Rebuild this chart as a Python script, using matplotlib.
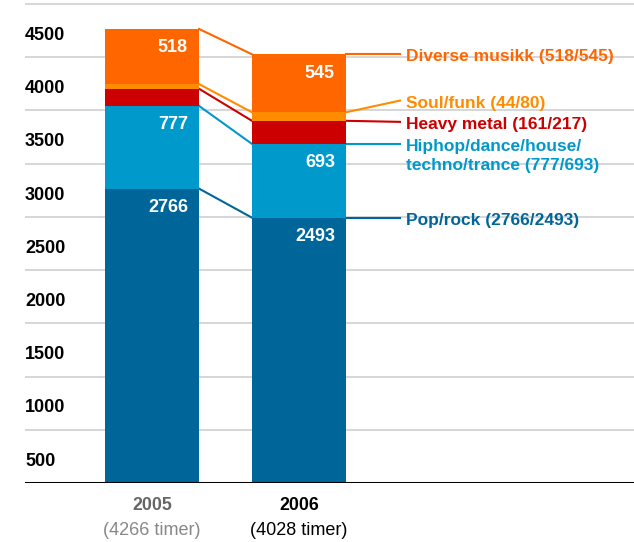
import matplotlib
matplotlib.use('Agg')
import matplotlib.pyplot as plt
import numpy as np

# data (hours of music per genre)
years = ['2005', '2006']
hours_text = ['(4266 timer)', '(4028 timer)']
genres = ['Pop/rock (2766/2493)',
          'Hiphop/dance/house/\ntechno/trance (777/693)',
          'Heavy metal (161/217)',
          'Soul/funk (44/80)',
          'Diverse musikk (518/545)']
values_2005 = [2766, 777, 161, 44, 518]
values_2006 = [2493, 693, 217, 80, 545]
show_value = [True, True, False, False, True]
yticks = [500, 1000, 1500, 2000, 2500, 3000, 3500, 4000, 4500]

colors = ['#00669a', '#0099cb', '#cc0000', '#ff8c00', '#ff6600']
label_dy = [0, 0, -10, 110, 0]   # small nudges so labels don't collide

plt.rcParams['font.family'] = ['Liberation Sans', 'DejaVu Sans']

fig = plt.figure(figsize=(6.34, 5.42), dpi=100)
ax = fig.add_axes([25 / 634, 59 / 542, 609 / 634, 483 / 542])
ax.set_xlim(-0.864, 3.279)
ax.set_ylim(0, 4538)
ax.axis('off')

values = np.array([values_2005, values_2006])
bottoms = np.cumsum(values, axis=1) - values
tops = bottoms + values
x = np.arange(len(years))
w = 0.64

for v in yticks:
    ax.axhline(v, color='#cccccc', lw=1.1, zorder=0)
    ax.text(0, v - 295, str(v), transform=ax.get_yaxis_transform(),
            ha='left', va='center', fontsize=13, fontweight='bold')
ax.axhline(0, color='black', lw=2.2, zorder=3)

label_x = 1.687
for i in range(len(genres)):
    ax.bar(x, values[:, i], w, bottom=bottoms[:, i], color=colors[i], zorder=2)
    ax.plot([x[0] + w / 2, x[1] - w / 2], [tops[0, i], tops[1, i]],
            color=colors[i], lw=1.5, zorder=1)
    ly = tops[1, i] + label_dy[i]
    ax.plot([x[1] + w / 2, label_x], [tops[1, i], ly],
            color=colors[i], lw=1.5, zorder=1)
    ax.annotate(genres[i], (label_x, ly), xytext=(4, 3.6), textcoords='offset points',
                ha='left', va='top', color=colors[i],
                fontsize=12.5, fontweight='bold', linespacing=1.36)
    if show_value[i]:
        for j in range(len(years)):
            ax.annotate(str(values[j, i]), (x[j] + w / 2, tops[j, i]),
                        xytext=(-8, -13.5), textcoords='offset points',
                        ha='right', va='center', color='white',
                        fontsize=13, fontweight='bold', zorder=4)

year_colors = ['#666666', 'black']
sub_colors = ['#888888', 'black']
for j in range(len(years)):
    ax.annotate(years[j], (x[j], 0), xytext=(0, -16), textcoords='offset points',
                ha='center', va='center', fontsize=12.8, fontweight='bold',
                color=year_colors[j], annotation_clip=False)
    ax.annotate(hours_text[j], (x[j], 0), xytext=(0, -34.5), textcoords='offset points',
                ha='center', va='center', fontsize=13,
                color=sub_colors[j], annotation_clip=False)

fig.savefig('out.png', dpi=100)
